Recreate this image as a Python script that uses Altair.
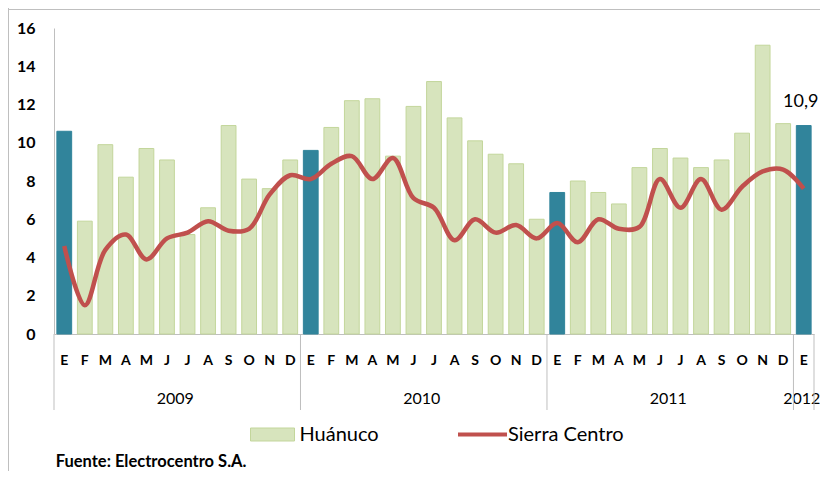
import altair as alt
import pandas as pd

# ---- data ----
meses = ["E", "F", "M", "A", "M", "J", "J", "A", "S", "O", "N", "D"] * 3 + ["E"]
anios = ["2009"] * 12 + ["2010"] * 12 + ["2011"] * 12 + ["2012"]
huanuco = [10.6, 5.9, 9.9, 8.2, 9.7, 9.1, 5.2, 6.6, 10.9, 8.1, 7.6, 9.1,
           9.6, 10.8, 12.2, 12.3, 9.3, 11.9, 13.2, 11.3, 10.1, 9.4, 8.9, 6.0,
           7.4, 8.0, 7.4, 6.8, 8.7, 9.7, 9.2, 8.7, 9.1, 10.5, 15.1, 11.0,
           10.9]
sierra_centro = [4.6, 1.5, 4.4, 5.2, 3.9, 5.0, 5.3, 5.9, 5.4, 5.5, 7.3, 8.3,
                 8.1, 8.9, 9.3, 8.1, 9.2, 7.1, 6.6, 4.9, 6.0, 5.3, 5.7, 5.0,
                 5.8, 4.8, 6.0, 5.5, 5.6, 8.1, 6.6, 8.1, 6.5, 7.7, 8.5, 8.6,
                 7.6]
y_ticks = [0, 2, 4, 6, 8, 10, 12, 14, 16]
etiqueta_final = "10,9"
fuente = "Fuente: Electrocentro S.A."

GREEN = "#d7e4bd"
GREEN_EDGE = "#c3d69b"
TEAL = "#31849b"
RED = "#c0504d"
GRAY = "#bfbfbf"
FONT = "Lato"

n = len(huanuco)
df = pd.DataFrame({
    "idx": list(range(n)),
    "mes": meses,
    "anio": anios,
    "huanuco": huanuco,
    "sierra": sierra_centro,
})
df["x0"] = df["idx"] - 0.36
df["x1"] = df["idx"] + 0.36
df["enero"] = [i % 12 == 0 for i in range(n)]

firsts = df.groupby("anio")["idx"].min().tolist()
bounds = pd.DataFrame({"b": [f - 0.5 for f in firsts] + [n - 0.5]})

xs = alt.Scale(domain=[-0.5, n - 0.5], nice=False, zero=False)
ys = alt.Scale(domain=[0, 16], nice=False)

yaxis = alt.Axis(values=y_ticks, ticks=False, labelPadding=19,
                 labelFont=FONT, labelFontWeight="bold", labelFontSize=16,
                 labelColor="black", domainColor=GRAY, grid=False, title=None)
xaxis = alt.Axis(labels=False, ticks=False, grid=False, title=None,
                 domainColor=GRAY)

base = alt.Chart(df)

bars = base.mark_rect(strokeWidth=1).encode(
    x=alt.X("x0:Q", scale=xs, axis=xaxis),
    x2="x1:Q",
    y=alt.Y("huanuco:Q", scale=ys, axis=yaxis),
    y2=alt.Y2(datum=0),
    fill=alt.condition("datum.enero", alt.value(TEAL), alt.value(GREEN)),
    stroke=alt.condition("datum.enero", alt.value(TEAL), alt.value(GREEN_EDGE)),
)

line = base.mark_line(color=RED, strokeWidth=4.5, interpolate="catmull-rom").encode(
    x=alt.X("idx:Q", scale=xs, axis=xaxis),
    y=alt.Y("sierra:Q", scale=ys, axis=yaxis),
)

last_label = base.transform_filter(alt.datum.idx == n - 1).mark_text(
    font=FONT, fontSize=18, color="black", dy=-24, dx=-3
).encode(
    x=alt.X("idx:Q", scale=xs, axis=xaxis),
    y=alt.Y("huanuco:Q", scale=ys, axis=yaxis),
    text=alt.value(etiqueta_final),
)

month_txt = base.mark_text(font=FONT, fontSize=14, fontWeight="bold", color="black",
                           baseline="middle").encode(
    x=alt.X("idx:Q", scale=xs, axis=xaxis),
    y=alt.value(333),
    text="mes:N",
)

year_txt = base.transform_aggregate(
    centro="mean(idx)", groupby=["anio"]
).mark_text(font=FONT, fontSize=16, color="black", baseline="middle", dx=-2).encode(
    x=alt.X("centro:Q", scale=xs, axis=xaxis),
    y=alt.value(371),
    text="anio:N",
)

seps = alt.Chart(bounds).mark_rule(color=GRAY, strokeWidth=1).encode(
    x=alt.X("b:Q", scale=xs, axis=xaxis),
    y=alt.value(306),
    y2=alt.value(382),
)

one = pd.DataFrame({"k": [0]})
frame_top = alt.Chart(one).mark_rule(color=GRAY, strokeWidth=1).encode(
    x=alt.value(-46), x2=alt.value(780), y=alt.value(-18.5))
frame_left = alt.Chart(one).mark_rule(color=GRAY, strokeWidth=1).encode(
    x=alt.value(-45.5), y=alt.value(-20), y2=alt.value(460))

leg_rect = alt.Chart(one).mark_rect(fill=GREEN, stroke=GREEN_EDGE, strokeWidth=1).encode(
    x=alt.value(196.5), x2=alt.value(240.5), y=alt.value(400), y2=alt.value(413))
leg_t1 = alt.Chart(one).mark_text(font=FONT, fontSize=20, align="left", baseline="middle",
                                  color="black").encode(
    x=alt.value(245.5), y=alt.value(407), text=alt.value("Huánuco"))
leg_line = alt.Chart(one).mark_rule(color=RED, strokeWidth=4).encode(
    x=alt.value(404), x2=alt.value(453), y=alt.value(406.5))
leg_t2 = alt.Chart(one).mark_text(font=FONT, fontSize=20, align="left", baseline="middle",
                                  color="black").encode(
    x=alt.value(454), y=alt.value(407), text=alt.value("Sierra Centro"))
src = alt.Chart(one).mark_text(font=FONT, fontSize=16.5, fontWeight="bold", align="left",
                               baseline="middle", color="black").encode(
    x=alt.value(1.7), y=alt.value(434), text=alt.value(fuente))

chart = alt.layer(
    bars, line, last_label, month_txt, year_txt, seps,
    frame_top, frame_left, leg_rect, leg_t1, leg_line, leg_t2, src,
).properties(
    width=760, height=306,
    autosize=alt.AutoSizeParams(type="none"),
    padding={"left": 46, "top": 20, "right": 6, "bottom": 137},
    background="white",
).configure_view(stroke=None)

chart.save("out.html", embed_options={"renderer": "svg", "actions": False})
